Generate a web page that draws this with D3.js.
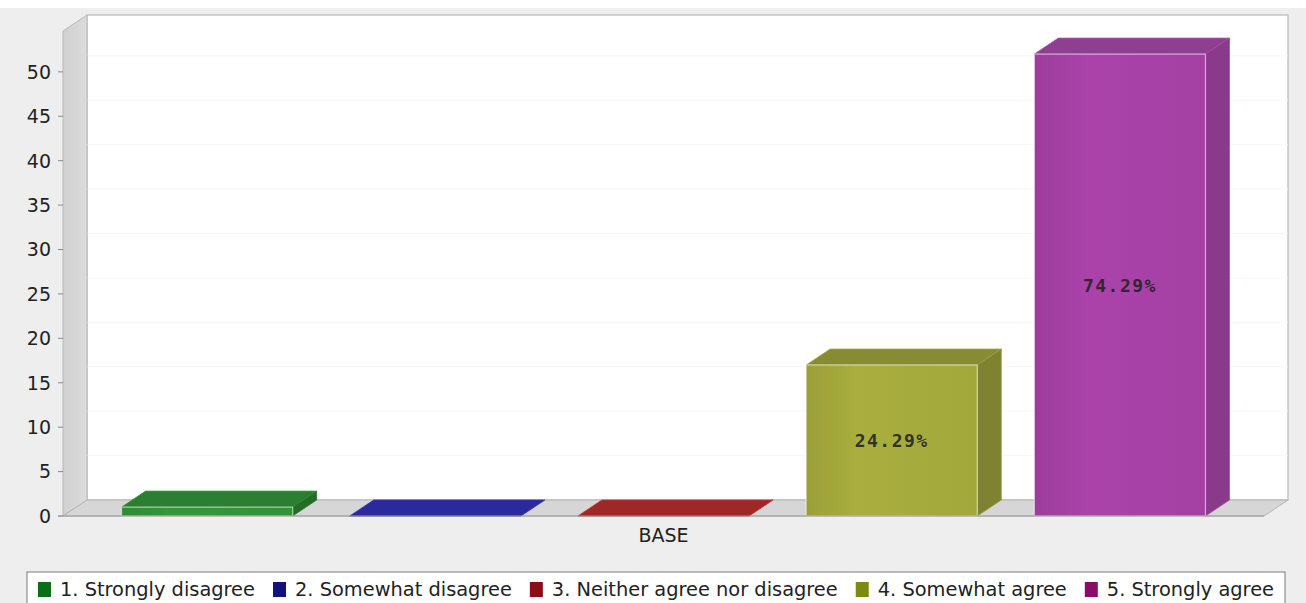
<!DOCTYPE html>
<html>
<head>
<meta charset="utf-8">
<script src="https://cdn.jsdelivr.net/npm/d3@7/dist/d3.min.js"></script>
<style>
  html, body { margin: 0; padding: 0; background: #ffffff; }
  svg { display: block; }
  text { font-family: "DejaVu Sans", sans-serif; }
</style>
</head>
<body>
<svg id="chart" width="1306" height="603"></svg>
<script>
// Survey responses for the BASE group (respondent counts)
const categories = ["BASE"];
const seriesNames = [
  "1. Strongly disagree",
  "2. Somewhat disagree",
  "3. Neither agree nor disagree",
  "4. Somewhat agree",
  "5. Strongly agree"
];
const counts = [1, 0, 0, 17, 52];
const yTicks = [0, 5, 10, 15, 20, 25, 30, 35, 40, 45, 50];

// Palette: legend swatch, front, top and side faces of each 3D bar
const swatchColors = ["#0b6e16", "#12127c", "#8c0c16", "#7d8a12", "#8a0c66"];
const frontColors  = ["#2f9434", "#2e2eaa", "#aa2a2a", "#a3a83c", "#a440a4"];
const topColors    = ["#2c7f30", "#2a2a9c", "#9e2828", "#878b34", "#8f3f8f"];
const sideColors   = ["#246c27", "#222288", "#8a2222", "#7e8231", "#8a3a8a"];

const svg = d3.select("#chart");
const W = 1306, H = 603;

// Chart background
svg.append("rect").attr("x", 0).attr("y", 8).attr("width", W).attr("height", H - 8)
  .attr("fill", "#eeeeee");

// Plot geometry (front plane) and 3D depth offset
const x0 = 63, x1 = 1264, yBase = 516, yTop = 31;
const dx = 24, dy = 16;

const total = d3.sum(counts);
const yMax = d3.max(counts) * 1.05;
const y = d3.scaleLinear().domain([0, yMax]).range([yBase, yTop]);

const xCat = d3.scaleBand().domain(categories).range([x0, x1])
  .paddingInner(0).paddingOuter(0.054);
const xSer = d3.scaleBand().domain(seriesNames)
  .range([xCat("BASE"), xCat("BASE") + xCat.bandwidth()])
  .paddingInner(0.25).paddingOuter(0);

const defs = svg.append("defs");
const wallGrad = defs.append("linearGradient").attr("id", "wallGrad")
  .attr("x1", "0").attr("x2", "1").attr("y1", "0").attr("y2", "0");
wallGrad.append("stop").attr("offset", "0").attr("stop-color", "#d0d0d0");
wallGrad.append("stop").attr("offset", "1").attr("stop-color", "#dcdcdc");

// Back wall
svg.append("rect")
  .attr("x", x0 + dx).attr("y", yTop - dy)
  .attr("width", x1 - x0).attr("height", yBase - yTop)
  .attr("fill", "#ffffff").attr("stroke", "#c4c4c4").attr("stroke-width", 1.5);

// Gridlines on the back wall
svg.append("g").selectAll("line").data(yTicks.filter(d => d > 0)).join("line")
  .attr("x1", x0 + dx).attr("x2", x1 + dx)
  .attr("y1", d => y(d) - dy).attr("y2", d => y(d) - dy)
  .attr("stroke", "#f6f6f6").attr("stroke-width", 1);

// Left wall
svg.append("path")
  .attr("d", `M${x0},${yTop}L${x0 + dx},${yTop - dy}L${x0 + dx},${yBase - dy}L${x0},${yBase}Z`)
  .attr("fill", "url(#wallGrad)").attr("stroke", "#b8b8b8").attr("stroke-width", 1);

// Floor
svg.append("path")
  .attr("d", `M${x0},${yBase}L${x0 + dx},${yBase - dy}L${x1 + dx},${yBase - dy}L${x1},${yBase}Z`)
  .attr("fill", "#d6d6d6").attr("stroke", "#b4b4b4").attr("stroke-width", 1);

// Front-face shading gradients
seriesNames.forEach((s, i) => {
  const g = defs.append("linearGradient").attr("id", "fg" + i)
    .attr("x1", "0").attr("x2", "1").attr("y1", "0").attr("y2", "0");
  const c = d3.color(frontColors[i]);
  g.append("stop").attr("offset", "0").attr("stop-color", c.darker(0.15));
  g.append("stop").attr("offset", "0.3").attr("stop-color", c.brighter(0.1));
  g.append("stop").attr("offset", "1").attr("stop-color", c);
});

// 3D bars
const bars = svg.append("g").selectAll("g").data(seriesNames).join("g");
bars.each(function(s, i) {
  const g = d3.select(this);
  const bx = xSer(s), bw = xSer.bandwidth();
  const yt = y(counts[i]);
  // top face
  g.append("path")
    .attr("d", `M${bx},${yt}L${bx + dx},${yt - dy}L${bx + bw + dx},${yt - dy}L${bx + bw},${yt}Z`)
    .attr("fill", topColors[i]).attr("stroke", d3.color(topColors[i]).brighter(0.6)).attr("stroke-width", 0.8);
  if (counts[i] > 0) {
    // side face
    g.append("path")
      .attr("d", `M${bx + bw},${yt}L${bx + bw + dx},${yt - dy}L${bx + bw + dx},${yBase - dy}L${bx + bw},${yBase}Z`)
      .attr("fill", sideColors[i]).attr("stroke", d3.color(sideColors[i]).brighter(0.5)).attr("stroke-width", 0.8);
    // front face
    g.append("rect")
      .attr("x", bx).attr("y", yt).attr("width", bw).attr("height", yBase - yt)
      .attr("fill", `url(#fg${i})`)
      .attr("stroke", "rgba(255,255,255,0.55)").attr("stroke-width", 1.2);
  }
});

// Percentage labels centred on bars tall enough to hold them
svg.append("g").selectAll("text")
  .data(seriesNames.map((s, i) => ({ s, v: counts[i] })).filter(d => y(0) - y(d.v) > 40))
  .join("text")
  .attr("x", d => xSer(d.s) + xSer.bandwidth() / 2)
  .attr("y", d => (y(d.v) + yBase) / 2)
  .attr("text-anchor", "middle").attr("dominant-baseline", "central")
  .style("font-family", "'DejaVu Sans Mono', monospace")
  .style("font-weight", "bold").style("font-size", "18px").style("letter-spacing", "1.5px")
  .attr("fill", "#222222").attr("fill-opacity", 0.9)
  .text(d => d3.format(".2f")(d.v / total * 100) + "%");

// Y axis ticks and labels
const yAxis = svg.append("g");
yAxis.selectAll("line").data(yTicks).join("line")
  .attr("x1", x0 - 5).attr("x2", x0).attr("y1", d => y(d)).attr("y2", d => y(d))
  .attr("stroke", "#888888");
yAxis.selectAll("text").data(yTicks).join("text")
  .attr("x", x0 - 12).attr("y", d => y(d)).attr("dy", "0.36em")
  .attr("text-anchor", "end").style("font-size", "19px").attr("fill", "#222")
  .text(d => d);
// front axis line
svg.append("line").attr("x1", x0 - 5).attr("x2", x1).attr("y1", yBase).attr("y2", yBase)
  .attr("stroke", "#9a9a9a");

// Category label
svg.append("text")
  .attr("x", xCat("BASE") + xCat.bandwidth() / 2).attr("y", 542)
  .attr("text-anchor", "middle").style("font-size", "19px").attr("fill", "#222")
  .text(categories[0]);

// Legend
const legBox = { x: 27, y: 572, w: 1258, h: 40 };
svg.append("rect").attr("x", legBox.x).attr("y", legBox.y)
  .attr("width", legBox.w).attr("height", legBox.h)
  .attr("fill", "#ffffff").attr("stroke", "#7a7a7a").attr("stroke-width", 1);

const leg = svg.append("g");
const items = leg.selectAll("g").data(seriesNames).join("g");
items.append("rect").attr("width", 13).attr("height", 15).attr("y", 582)
  .attr("fill", (d, i) => swatchColors[i]);
items.append("text").attr("y", 596).style("font-size", "19.4px").attr("fill", "#222")
  .text(d => d);
const swW = 13, gapSw = 9, gapItem = 18;
const widths = [];
items.select("text").each(function() { widths.push(this.getComputedTextLength()); });
const totalW = d3.sum(widths) + seriesNames.length * (swW + gapSw) + (seriesNames.length - 1) * gapItem;
let cx = legBox.x + (legBox.w - totalW) / 2;
items.each(function(d, i) {
  const g = d3.select(this);
  g.select("rect").attr("x", cx);
  g.select("text").attr("x", cx + swW + gapSw);
  cx += swW + gapSw + widths[i] + gapItem;
});
</script>
</body>
</html>
